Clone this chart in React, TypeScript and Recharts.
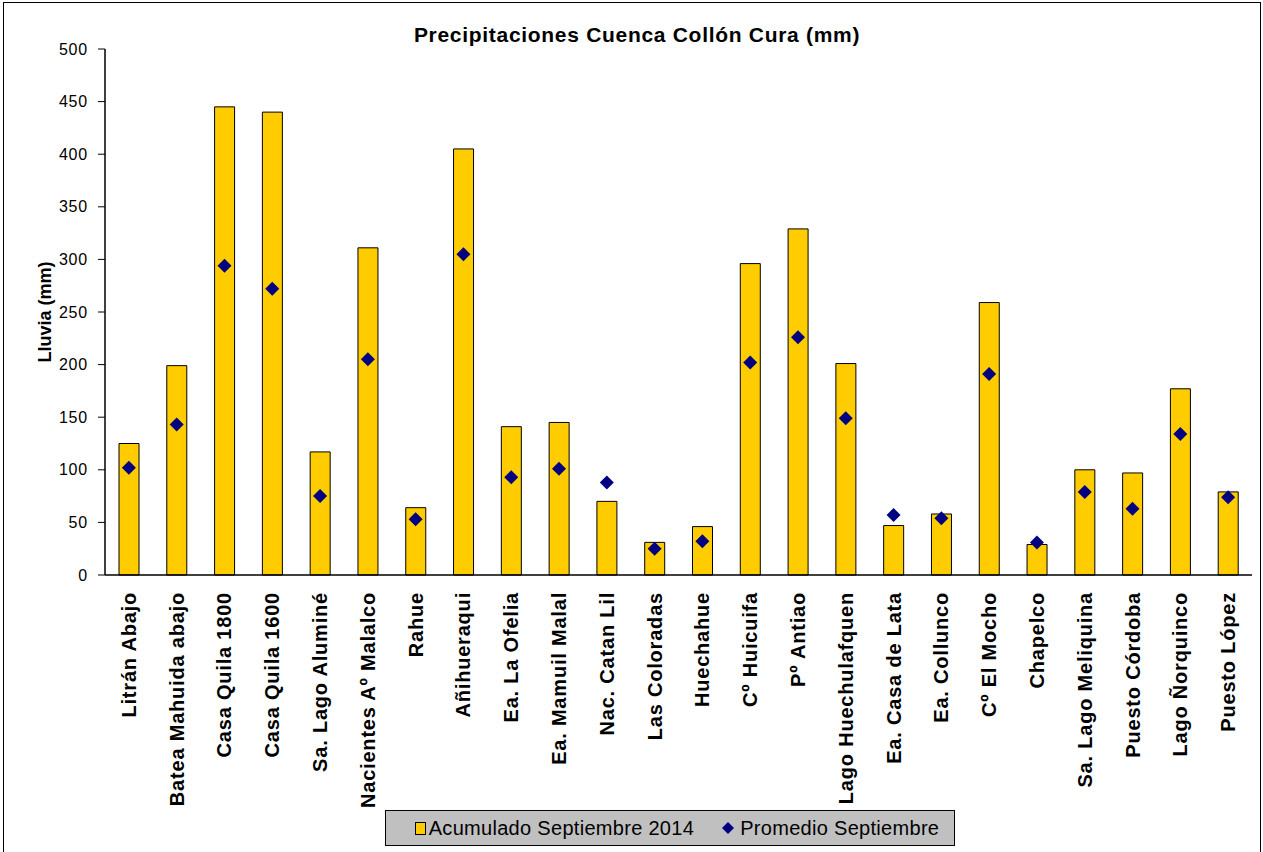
import React from 'react';
import { ComposedChart, Bar, Scatter, XAxis, YAxis } from 'recharts';

const estaciones = [
  'Litrán Abajo', 'Batea Mahuida abajo', 'Casa Quila 1800', 'Casa Quila 1600', 'Sa. Lago Aluminé',
  'Nacientes Aº Malalco', 'Rahue', 'Añihueraqui', 'Ea. La Ofelia', 'Ea. Mamuil  Malal',
  'Nac. Catan Lil', 'Las Coloradas', 'Huechahue', 'Cº Huicuifa', 'Pº Antiao',
  'Lago Huechulafquen', 'Ea. Casa de Lata', 'Ea. Collunco', 'Cº El Mocho', 'Chapelco',
  'Sa. Lago Meliquina', 'Puesto Córdoba', 'Lago Ñorquinco', 'Puesto López',
];
const acumulado = [125, 199, 445, 440, 117, 311, 64, 405, 141, 145, 70, 31, 46, 296, 329, 201, 47, 58, 259, 29, 100, 97, 177, 79];
const promedio = [102, 143, 294, 272, 75, 205, 53, 305, 93, 101, 88, 25, 32, 202, 226, 149, 57, 54, 191, 31, 79, 63, 134, 74];
const yTicks = [0, 50, 100, 150, 200, 250, 300, 350, 400, 450, 500];

const FONT = '"Liberation Sans", Arial, sans-serif';
const YELLOW = '#FFCC00';
const NAVY = '#000080';

const data = estaciones.map((name, i) => ({ name, acumulado: acumulado[i], promedio: promedio[i] }));
const edgeTicks = [...estaciones.map((_, i) => i), estaciones.length];

const XTick = ({ x, y, payload }: any) => (
  <text
    x={x}
    y={y}
    transform={`rotate(-90, ${x}, ${y})`}
    textAnchor="end"
    dy="0.35em"
    fontFamily={FONT}
    fontWeight="bold"
    fontSize={20}
    letterSpacing={0.8}
    fill="#000"
  >
    {payload.value}
  </text>
);

const Diamond = ({ cx, cy }: any) => {
  if (cx == null || cy == null) return null;
  const r = 7;
  return <polygon points={`${cx},${cy - r} ${cx + r},${cy} ${cx},${cy + r} ${cx - r},${cy}`} fill={NAVY} />;
};

const YLabel = ({ viewBox }: any) => {
  const cx = 45;
  const cy = viewBox.y + viewBox.height / 2;
  return (
    <text
      x={cx}
      y={cy}
      transform={`rotate(-90, ${cx}, ${cy})`}
      textAnchor="middle"
      dy="0.35em"
      fontFamily={FONT}
      fontWeight="bold"
      fontSize={18}
      fill="#000"
    >
      Lluvia (mm)
    </text>
  );
};

export default function App() {
  return (
    <div style={{ position: 'absolute', left: 0, top: 0, width: 1263, height: 852, overflow: 'hidden', background: '#fff' }}>
      <div style={{ position: 'absolute', left: 3, top: 2, width: 1256, height: 900, border: '1px solid #000' }} />
      <div
        style={{
          position: 'absolute', left: 0, top: 24, width: 1274, textAlign: 'center',
          fontFamily: FONT, fontWeight: 'bold', fontSize: 21, lineHeight: 1, letterSpacing: 0.7,
        }}
      >
        Precipitaciones Cuenca Collón Cura (mm)
      </div>
      <div style={{ position: 'absolute', left: 0, top: 0 }}>
        <ComposedChart width={1263} height={852} data={data} margin={{ top: 49, right: 11, left: 5, bottom: 0 }}>
          <XAxis
            xAxisId={0}
            type="number"
            domain={[0, estaciones.length]}
            ticks={edgeTicks}
            tick={false}
            tickSize={6}
            tickLine={{ stroke: '#000' }}
            axisLine={false}
            height={0}
          />
          <XAxis
            xAxisId="cat"
            dataKey="name"
            interval={0}
            tick={<XTick />}
            tickLine={false}
            tickSize={0}
            tickMargin={17}
            axisLine={{ stroke: '#000', strokeWidth: 1.5 }}
            height={277}
          />
          <XAxis
            xAxisId="top"
            orientation="top"
            type="number"
            domain={[0, 1]}
            tick={false}
            tickLine={false}
            axisLine={{ stroke: '#999' }}
            height={0}
          />
          <YAxis
            yAxisId="left"
            domain={[0, 500]}
            ticks={yTicks}
            interval={0}
            width={100}
            tickSize={7}
            tickMargin={10}
            tickLine={{ stroke: '#000' }}
            axisLine={{ stroke: '#000', strokeWidth: 1.5 }}
            tick={{ fill: '#000', fontFamily: FONT, fontSize: 16, letterSpacing: 0.8 }}
            label={<YLabel />}
          />
          <YAxis
            yAxisId="right"
            orientation="right"
            domain={[0, 500]}
            width={0}
            tick={false}
            tickLine={false}
            axisLine={{ stroke: '#999' }}
          />
          <Bar
            xAxisId="cat"
            yAxisId="left"
            dataKey="acumulado"
            name="Acumulado Septiembre 2014"
            barSize={20}
            fill={YELLOW}
            stroke="#000"
            strokeWidth={1}
            isAnimationActive={false}
          />
          <Scatter
            xAxisId="cat"
            yAxisId="left"
            dataKey="promedio"
            name="Promedio Septiembre"
            fill={NAVY}
            shape={<Diamond />}
            isAnimationActive={false}
          />
        </ComposedChart>
      </div>
      <div
        style={{
          position: 'absolute', left: 385, top: 810, width: 570, height: 36,
          background: '#C0C0C0', border: '1px solid #000',
          display: 'flex', alignItems: 'center', justifyContent: 'center', gap: 28,
          fontFamily: FONT, fontSize: 20, letterSpacing: 0.3, paddingLeft: 14, boxSizing: 'border-box',
        }}
      >
        <span style={{ display: 'flex', alignItems: 'center', gap: 3 }}>
          <span style={{ width: 9, height: 11, background: YELLOW, border: '1px solid #000', display: 'inline-block' }} />
          Acumulado Septiembre 2014
        </span>
        <span style={{ display: 'flex', alignItems: 'center', gap: 6 }}>
          <svg width={12} height={12}>
            <polygon points="6,0 12,6 6,12 0,6" fill={NAVY} />
          </svg>
          Promedio Septiembre
        </span>
      </div>
    </div>
  );
}
